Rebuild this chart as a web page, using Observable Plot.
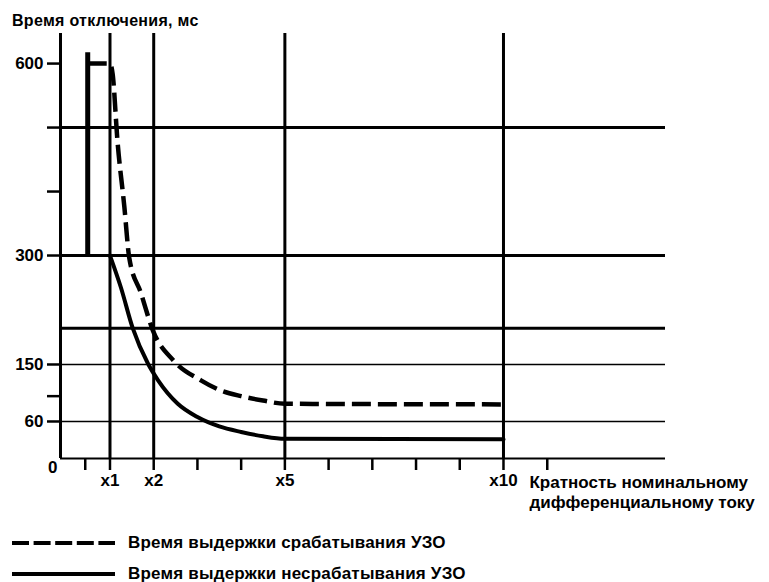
<!DOCTYPE html>
<html>
<head>
<meta charset="utf-8">
<script src="https://cdn.jsdelivr.net/npm/d3@7"></script>
<script src="https://cdn.jsdelivr.net/npm/@observablehq/plot@0.6"></script>
<style>
  body { margin: 0; background: #fff; font-family: "Liberation Sans", Arial, sans-serif; color: #000; }
  #wrap { position: relative; width: 769px; height: 582px; overflow: hidden; }
  #title { position: absolute; left: 12px; top: 13px; font-size: 16px; line-height: 16px; font-weight: bold; white-space: nowrap; letter-spacing: 0.3px; }
  #chart { position: absolute; left: 0; top: 0; }
  .row { position: absolute; left: 12px; height: 18px; display: flex; align-items: center; font-size: 17px; line-height: 18px; font-weight: bold; white-space: nowrap; letter-spacing: 0.2px; }
  .row svg { margin-right: 13px; }
</style>
</head>
<body>
<div id="wrap">
  <div id="chart"></div>
  <div id="title"></div>
  <div class="row" id="leg1" style="top:534px"></div>
  <div class="row" id="leg2" style="top:565px"></div>
</div>
<script>
// ---- data ----
const yTitle = "Время отключения, мс";
const xTitle = "Кратность номинальному\nдифференциальному току";
const seriesNames = ["Время выдержки срабатывания УЗО", "Время выдержки несрабатывания УЗО"];

const xTicksLabeled = [1, 2, 5, 10];
const xTicksMinor = [0.5, 3, 4, 6, 7, 8, 9, 11];
const yTicksLabeled = [60, 150, 300, 600];
const yTicksMinor = [100, 400, 500];
const gridThick = [200, 300, 500];
const gridThin = [60, 150];
const gridVertical = [1, 2, 5, 10];

// Trip delay (dashed)
const tripX = [0.55, 1, 1.06, 1.17, 1.33, 1.44, 1.71, 1.98, 2.46, 3.08, 3.5, 4, 4.5, 5, 10];
const tripY = [600, 600, 584, 480, 375, 297, 248, 197, 155, 125, 110, 100, 93, 88, 87];
// Non-trip delay (solid)
const noTripX = [1, 1.25, 1.52, 1.87, 2.1, 2.55, 3, 3.5, 4, 4.5, 5, 10];
const noTripY = [300, 256, 200, 151, 125, 88, 67, 52, 43, 36, 32, 31];
// Vertical bar near origin
const barX = [0.55];
const barY1 = 300, barY2 = 617;

// axis extents
const xMax = 13.7;
const yMax = 647;

// The original drawing is schematic (non-uniform axes): piecewise breakpoints
const xBreaks = [0, 1, 10, xMax];
const xBreakPos = [0, 0.0818, 0.7322, 1];      // fraction of axis length
const yBreaks = [0, 60, 150, 300, yMax];
const yBreakPos = [0, 0.0871, 0.2212, 0.4776, 1];

function piecewiseInterp(breaks, pos) {
  const lo = breaks[0], hi = breaks[breaks.length - 1];
  const f = d3.scaleLinear().domain(breaks.map(b => (b - lo) / (hi - lo))).range(pos);
  return (a, b) => t => a + (b - a) * f(t);
}

const trip = tripX.map((x, i) => ({x, y: tripY[i]}));
const noTrip = noTripX.map((x, i) => ({x, y: noTripY[i]}));

const font = {fontSize: 17, fontWeight: "bold", fontFamily: "Liberation Sans, Arial, sans-serif"};

const chart = Plot.plot({
  width: 769,
  height: 520,
  marginLeft: 60,
  marginRight: 104,
  marginTop: 33,
  marginBottom: 62,
  style: {background: "#fff", color: "#000", fontFamily: "Liberation Sans, Arial, sans-serif"},
  x: {type: "linear", domain: [0, xMax], interpolate: piecewiseInterp(xBreaks, xBreakPos)},
  y: {type: "linear", domain: [0, yMax], interpolate: piecewiseInterp(yBreaks, yBreakPos)},
  marks: [
    // horizontal grid
    Plot.ruleY(gridThick, {x1: 0, x2: xMax, stroke: "#000", strokeWidth: 3}),
    Plot.ruleY(gridThin, {x1: 0, x2: xMax, stroke: "#000", strokeWidth: 1.7}),
    // vertical grid
    Plot.ruleX(gridVertical, {y1: 0, y2: yMax, stroke: "#000", strokeWidth: 3}),
    // axes lines
    Plot.ruleX([0], {y1: 0, y2: yMax, stroke: "#000", strokeWidth: 3}),
    Plot.ruleY([0], {x1: 0, x2: xMax, stroke: "#000", strokeWidth: 2.2}),
    // bar
    Plot.ruleX(barX, {y1: barY1, y2: barY2, stroke: "#000", strokeWidth: 5}),
    // curves
    Plot.line(noTrip, {x: "x", y: "y", curve: "monotone-x", stroke: "#000", strokeWidth: 4}),
    Plot.line(trip, {x: "x", y: "y", curve: "monotone-x", stroke: "#000", strokeWidth: 4.5, strokeDasharray: "19 7", strokeLinecap: "butt"}),
    // y axis
    Plot.axisY(yTicksLabeled, {tickSize: 13, tickPadding: 4, strokeWidth: 2.5, label: null, tickFormat: d => String(d), ...font}),
    Plot.axisY(yTicksMinor, {tickSize: 13, strokeWidth: 2.5, label: null, tickFormat: () => ""}),
    Plot.axisY([0], {tickSize: 0, tickPadding: 3, dy: 9, label: null, tickFormat: d => String(d), ...font}),
    // x axis
    Plot.axisX(xTicksLabeled, {tickSize: 12, tickPadding: 3, strokeWidth: 2.5, label: null, tickFormat: d => "x" + d, ...font}),
    Plot.axisX(xTicksMinor, {tickSize: 12, strokeWidth: 2.5, label: null, tickFormat: () => ""}),
    // x axis title
    Plot.text([xTitle], {x: 10, y: 0, text: d => d, dx: 26, dy: 15, textAnchor: "start", lineAnchor: "top", lineHeight: 1.17, fontSize: 17, fontWeight: "bold", fill: "#000"})
  ]
});
document.getElementById("chart").appendChild(chart);
document.getElementById("title").textContent = yTitle;

function swatch(dashed) {
  const ns = "http://www.w3.org/2000/svg";
  const s = document.createElementNS(ns, "svg");
  s.setAttribute("width", 103); s.setAttribute("height", 10);
  const l = document.createElementNS(ns, "line");
  l.setAttribute("x1", 0); l.setAttribute("x2", 103);
  l.setAttribute("y1", 5); l.setAttribute("y2", 5);
  l.setAttribute("stroke", "#000");
  l.setAttribute("stroke-width", 4);
  if (dashed) l.setAttribute("stroke-dasharray", "17 4.6");
  s.appendChild(l);
  return s;
}
[["leg1", true], ["leg2", false]].forEach(([id, dashed], i) => {
  const el = document.getElementById(id);
  el.appendChild(swatch(dashed));
  const sp = document.createElement("span");
  sp.textContent = seriesNames[i];
  el.appendChild(sp);
});
</script>
</body>
</html>
